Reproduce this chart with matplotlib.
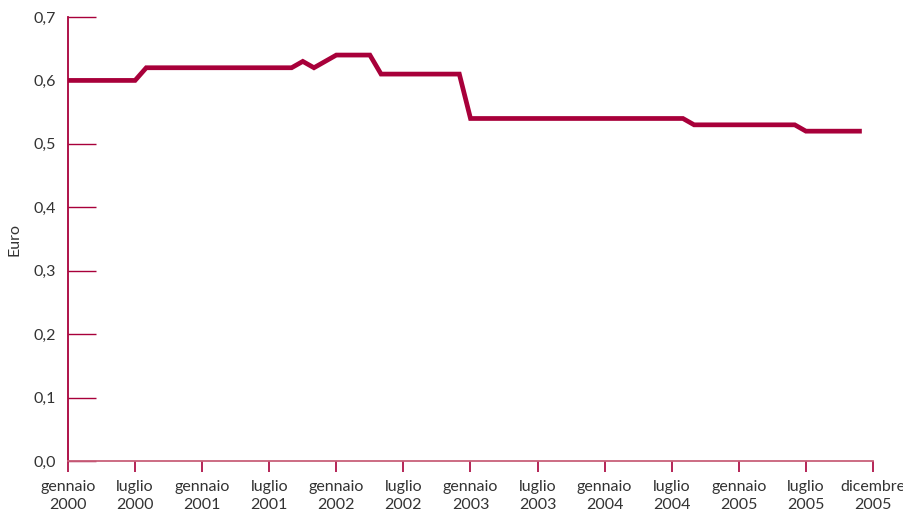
import numpy as np
import matplotlib
matplotlib.use('Agg')
from matplotlib import pyplot as plt

# prezzo medio mensile, gennaio 2000 - dicembre 2005
prices = ([0.60] * 7 + [0.62] * 14 + [0.63, 0.62, 0.63] + [0.64] * 4 +
          [0.61] * 8 + [0.54] * 20 + [0.53] * 10 + [0.52] * 6)
months = np.arange(len(prices))

tick_pos = list(range(0, 72, 6)) + [72]
tick_labels = []
for y in range(2000, 2006):
    tick_labels += ['gennaio\n%d' % y, 'luglio\n%d' % y]
tick_labels.append('dicembre\n2005')

y_ticks = [0.0, 0.1, 0.2, 0.3, 0.4, 0.5, 0.6, 0.7]
y_labels = ['0,0', '0,1', '0,2', '0,3', '0,4', '0,5', '0,6', '0,7']

red = '#A8003A'
txt = '#333333'
plt.rcParams['font.family'] = ['Lato', 'DejaVu Sans']

fig = plt.figure(figsize=(9.04, 5.14), dpi=100)
ax = fig.add_axes([68 / 904, 1 - 461 / 514, (873 - 68) / 904, (461 - 17) / 514])

ax.plot(months, prices, color=red, linewidth=3.4, solid_capstyle='butt',
        solid_joinstyle='miter', clip_on=False, zorder=3)

ax.set_xlim(0, 72)
ax.set_ylim(0, 0.7)
ax.set_xticks(tick_pos)
ax.set_xticklabels(tick_labels, fontsize=11.5, color=txt, linespacing=1.3)
ax.set_yticks(y_ticks)
ax.set_yticklabels(y_labels, fontsize=11.5, color=txt)
ax.tick_params(axis='x', direction='out', length=8, width=1.2, color=red, pad=6)
ax.tick_params(axis='y', direction='in', length=20, width=1, color=red, pad=9)

for s in ['top', 'right']:
    ax.spines[s].set_visible(False)
ax.spines['left'].set_color(red)
ax.spines['left'].set_linewidth(1.3)
ax.spines['bottom'].set_color('#C8607A')
ax.spines['bottom'].set_linewidth(1.3)

ax.set_ylabel('Euro', fontsize=11.5, color=txt, labelpad=8)

fig.savefig('out.png', dpi=100)
